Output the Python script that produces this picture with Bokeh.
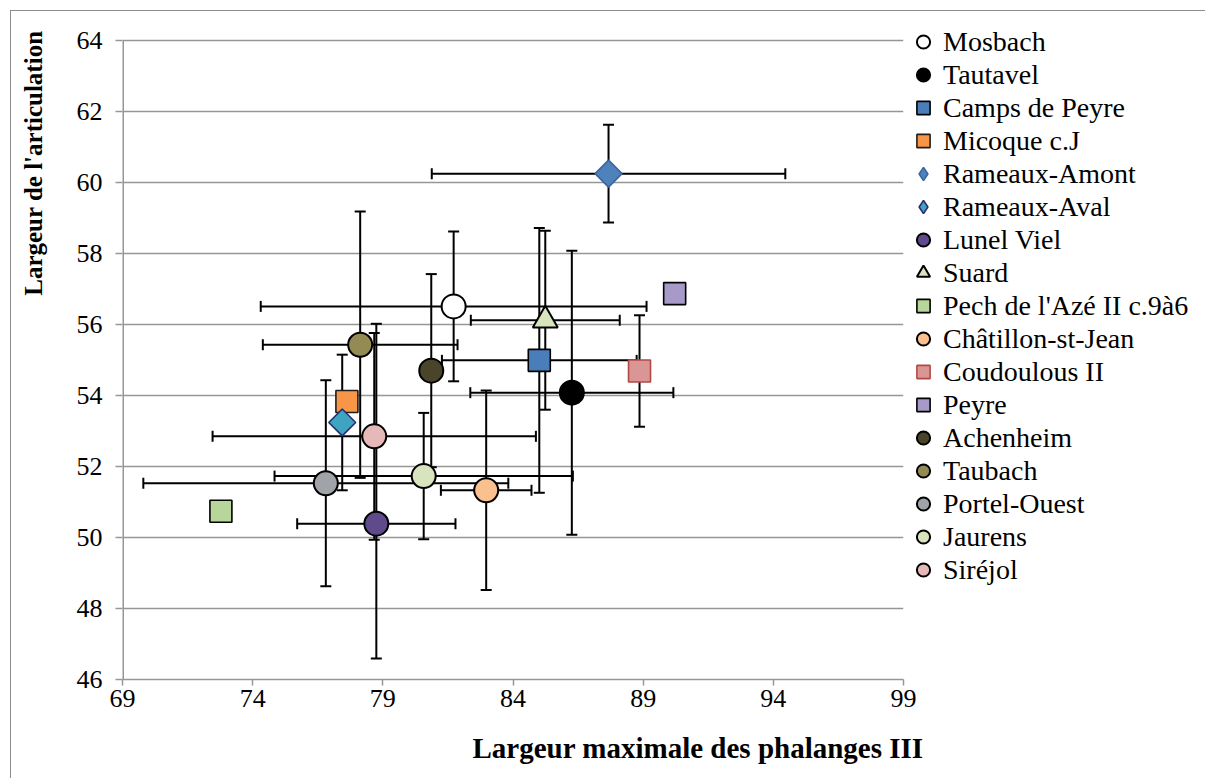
import math
from bokeh.plotting import figure
from bokeh.models import (ColumnDataSource, Whisker, TeeHead, Legend, LegendItem,
                          Title, FixedTicker, Range1d)
from bokeh.embed import file_html
from bokeh.resources import INLINE

NaN = float("nan")

# ---------------- data ----------------
sites = ["Mosbach", "Tautavel", "Camps de Peyre", "Micoque c.J", "Rameaux-Amont",
         "Rameaux-Aval", "Lunel Viel", "Suard", "Pech de l'Azé II c.9à6",
         "Châtillon-st-Jean", "Coudoulous II", "Peyre", "Achenheim", "Taubach",
         "Portel-Ouest", "Jaurens", "Siréjol"]
x_width = [81.72, 86.26, 85.01, 77.62, 87.67, 77.44, 78.75, 85.24, 72.78,
           82.97, 88.86, 90.21, 80.86, 78.13, 76.81, 80.57, 78.67]
y_art = [56.51, 54.08, 54.99, 53.83, 60.25, 53.24, 50.39, 56.12, 50.74,
         51.33, 54.69, 56.87, 54.70, 55.43, 51.53, 51.73, 52.85]
x_err = [7.41, 3.90, 3.74, NaN, 6.79, NaN, 3.04, 2.86, NaN,
         1.74, NaN, NaN, NaN, 3.74, 7.01, 5.73, 6.21]
y_err_minus = [2.11, 4.00, 3.73, NaN, 1.38, 1.91, 3.80, 2.52, NaN,
               2.81, 1.57, NaN, 2.72, 3.75, 2.90, 1.78, 2.91]
y_err_plus = [2.11, 4.00, 3.73, NaN, 1.38, 1.91, 5.63, 2.52, NaN,
              2.81, 1.57, NaN, 2.72, 3.75, 2.90, 1.78, 2.91]
x_ticks = [69, 74, 79, 84, 89, 94, 99]
y_ticks = [46, 48, 50, 52, 54, 56, 58, 60, 62, 64]

# ---------------- styles ----------------
markers = ["circle", "circle", "square", "square", "diamond", "diamond", "circle",
           "triangle", "square", "circle", "square", "square", "circle", "circle",
           "circle", "circle", "circle"]
fills = ["#FFFFFF", "#000000", "#4A7EBB", "#F79646", "#4F81BD", "#3FA4C0", "#5F4B8B",
         "#D7E4BD", "#B9D69A", "#FAC090", "#D99694", "#A89AC8", "#4A452A", "#948A54",
         "#A0A3A8", "#D7E4BD", "#E6B9B8"]
outlines = ["#000000", "#000000", "#000000", "#1F1F1F", "#3A66A0", "#2B2A72", "#000000",
            "#000000", "#000000", "#000000", "#B04A48", "#000000", "#000000", "#000000",
            "#000000", "#000000", "#000000"]

SERIF = "Liberation Serif"
GRID = "#969696"

# layout: 35.5 px per y unit; frame extends 15 px above the top tick so the
# legend (placed in the right panel) can start a little above the 64 line
PX_PER_Y = 35.5
EXTRA_TOP = 15
y_top = y_ticks[-1] + EXTRA_TOP / PX_PER_Y

p = figure(width=1192, height=767, frame_width=781, frame_height=639 + EXTRA_TOP,
           output_backend="svg", toolbar_location=None,
           x_range=Range1d(x_ticks[0], x_ticks[-1]), y_range=Range1d(y_ticks[0], y_top),
           min_border_left=111, min_border_right=300,
           min_border_top=29 - EXTRA_TOP, min_border_bottom=99)
p.styles = {"border-left": "1px solid #8c8c8c", "border-top": "1px solid #8c8c8c",
            "margin-left": "10px", "margin-top": "10px"}
p.outline_line_color = None
p.background_fill_color = "white"
p.border_fill_color = "white"

p.xgrid.visible = False
p.ygrid.grid_line_color = GRID
p.ygrid.grid_line_width = 1.5
p.ygrid.ticker = FixedTicker(ticks=y_ticks)

p.xaxis.ticker = FixedTicker(ticks=x_ticks)
p.yaxis.ticker = FixedTicker(ticks=y_ticks)
for ax in (p.xaxis[0], p.yaxis[0]):
    ax.axis_line_color = GRID
    ax.axis_line_width = 1.5
    ax.major_tick_line_color = GRID
    ax.major_tick_line_width = 1.5
    ax.minor_tick_line_color = None
    ax.major_tick_in = 0
    ax.major_label_text_font = SERIF
    ax.major_label_text_font_size = "26px"
    ax.major_label_text_color = "#000000"
    # tiny blank axis label used only as a spacer before the title
    ax.axis_label = " "
    ax.axis_label_text_font_size = "2px"
p.yaxis.axis_line_color = None   # drawn below, only from 46 to 64
p.xaxis.major_tick_out = 6
p.yaxis.major_tick_out = 7
p.xaxis.major_label_standoff = 4
p.yaxis.major_label_standoff = 13
p.xaxis.axis_label_standoff = 10
p.yaxis.axis_label_standoff = 17

# vertical axis line (half of it is clipped by the frame edge -> 1.5 px visible)
p.segment(x0=[x_ticks[0]], y0=[y_ticks[0]], x1=[x_ticks[0]], y1=[y_ticks[-1]],
          line_color=GRID, line_width=3)

# ---------------- error bars (drawn beneath markers) ----------------
ix = [i for i in range(len(sites)) if not math.isnan(x_err[i])]
iy = [i for i in range(len(sites)) if not math.isnan(y_err_minus[i])]
src_x = ColumnDataSource(dict(
    base=[y_art[i] for i in ix],
    lower=[x_width[i] - x_err[i] for i in ix],
    upper=[x_width[i] + x_err[i] for i in ix]))
src_y = ColumnDataSource(dict(
    base=[x_width[i] for i in iy],
    lower=[y_art[i] - y_err_minus[i] for i in iy],
    upper=[y_art[i] + y_err_plus[i] for i in iy]))

for src, dim in ((src_x, "width"), (src_y, "height")):
    w = Whisker(source=src, base="base", lower="lower", upper="upper",
                dimension=dim, line_color="black", line_width=2, level="underlay",
                upper_head=TeeHead(size=11, line_color="black", line_width=2),
                lower_head=TeeHead(size=11, line_color="black", line_width=2))
    p.add_layout(w)

# ---------------- markers ----------------
sizes = {"circle": 24, "square": 22, "diamond": 19, "triangle": 25}
items = []
for i, name in enumerate(sites):
    mk = markers[i]
    kw = dict(fill_color=fills[i], line_color=outlines[i],
              line_width=2 if mk in ("circle", "triangle") else 1.6)
    if mk == "diamond":
        p.scatter(x=[x_width[i]], y=[y_art[i]], marker="square",
                  angle=math.pi / 4, size=sizes[mk], **kw)
        # hidden twin with the diamond shape, used only for the legend swatch
        r = p.scatter(x=[x_width[i]], y=[y_art[i]], marker="diamond",
                      size=sizes[mk], visible=False, **kw)
    else:
        r = p.scatter(x=[x_width[i]], y=[y_art[i]], marker=mk, size=sizes[mk], **kw)
    items.append(LegendItem(label=name, renderers=[r]))

legend = Legend(items=items, location="top_left",
                glyph_width=40, glyph_height=33, label_height=33,
                spacing=0, padding=0, margin=0, label_standoff=0,
                label_text_font=SERIF, label_text_font_size="28px",
                label_text_color="#000000",
                border_line_color=None, background_fill_alpha=0)
p.add_layout(legend, "right")

# ---------------- axis titles ----------------
p.add_layout(Title(text="Largeur maximale des phalanges III", align="left", offset=350,
                   text_font=SERIF, text_font_style="bold", text_font_size="29px",
                   text_color="#000000"), "below")
p.add_layout(Title(text="Largeur de l'articulation", align="right", offset=5,
                   text_font=SERIF, text_font_style="bold", text_font_size="25px",
                   text_color="#000000"), "left")

open("out.html", "w").write(file_html(p, INLINE))
